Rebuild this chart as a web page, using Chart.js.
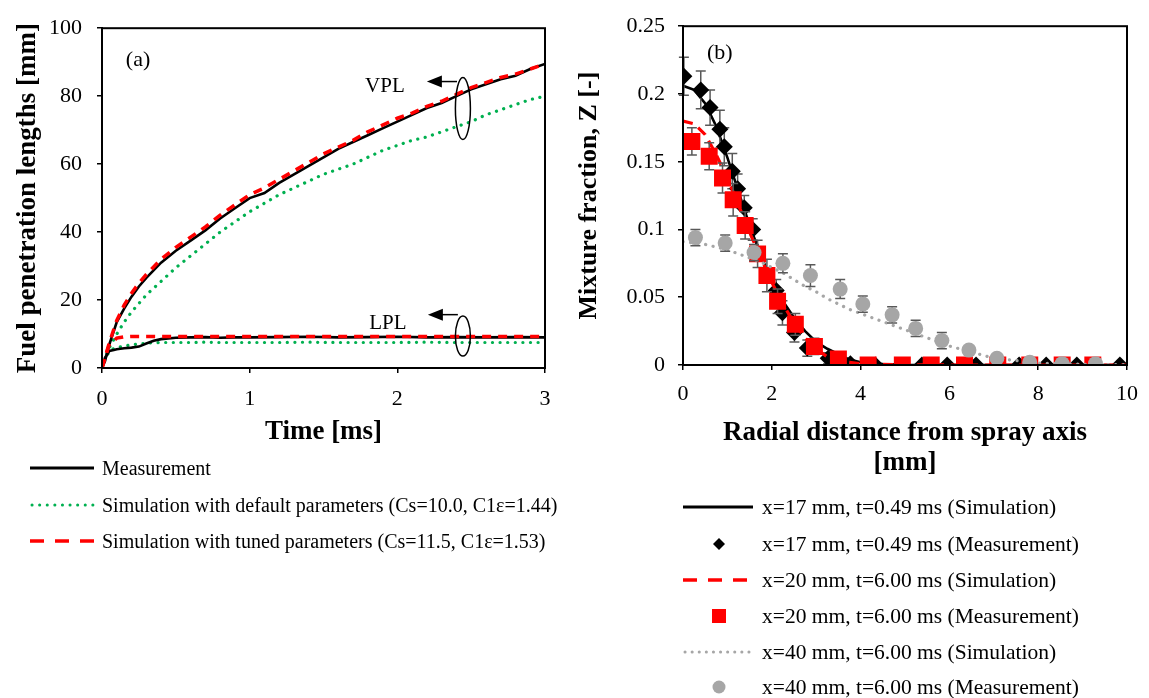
<!DOCTYPE html>
<html><head><meta charset="utf-8">
<script src="https://cdn.jsdelivr.net/npm/chart.js@4.4.0/dist/chart.umd.min.js"></script>
<style>
body{margin:0;background:#fff;width:1149px;height:698px;overflow:hidden;position:relative;font-family:"Liberation Serif","Times New Roman",serif;color:#000;}
#c1{position:absolute;left:0;top:0;}
#c2{position:absolute;left:560px;top:0;}
.row{position:absolute;display:flex;align-items:center;white-space:nowrap;font-size:20px;height:30px;}
.row svg{flex:none;}
</style>
</head><body>
<canvas id="c1" width="580" height="500"></canvas>
<canvas id="c2" width="589" height="500"></canvas>
<div id="legA"></div>
<div id="legB"></div>
<script>
// ---------- Panel (a) data ----------
const vplTime = [0,0.02,0.05,0.1,0.15,0.2,0.25,0.3,0.4,0.5,0.6,0.7,0.8,0.9,1.0,1.1,1.2,1.3,1.4,1.5,1.6,1.7,1.8,1.9,2.0,2.1,2.2,2.3,2.4,2.5,2.6,2.7,2.8,2.9,3.0];
const vplMeas  = [0,2,7,13.5,17.5,21,24,26.5,31,34.5,37.5,40.5,44,47,50,51.5,54.5,57,59.5,62,64.5,66.5,68.5,70.5,72.5,74.5,76.5,78,80,82,83.5,85,86,88,89.5];
const vplDef   = [0,3,6,10,13.5,16.5,19,21.5,25.5,29.5,33,36.5,40,43,46,48.5,51,53,55,57,58.5,60,62,64,65.5,67,68,69.5,71,72.5,74.5,76,77.5,79,80];
const vplTuned = [0,3,7.5,14,18.5,22,25,27.5,32,35.5,38.5,41.5,45,48,51,53,55.5,58,60.5,63,65,67,69.5,71.5,73.5,75,77,78.5,80.5,82.5,84,85.5,86.5,88,89.5];
const lplTime  = [0,0.02,0.05,0.08,0.1,0.15,0.2,0.25,0.3,0.35,0.4,0.5,0.6,0.7,0.8,0.9,1.0,1.2,1.4,1.6,1.8,2.0,2.2,2.4,2.6,2.8,3.0];
const lplMeas  = [0,3,5,5.3,5.5,5.8,6,6.3,7.2,8,8.5,8.9,9,9.1,8.9,9,9,9.1,9.2,9,9.1,9.2,9,9.1,9,9.1,9];
const lplDef   = [0,2.5,5,5.7,6,6.5,6.8,7.1,7.3,7.4,7.5,7.5,7.5,7.6,7.5,7.5,7.5,7.5,7.6,7.5,7.5,7.5,7.6,7.5,7.5,7.5,7.5];
const lplTuned = [0,3,7,8,8.8,9.2,9.3,9.3,9.3,9.3,9.3,9.3,9.3,9.3,9.3,9.3,9.3,9.3,9.3,9.3,9.3,9.3,9.3,9.3,9.3,9.3,9.3];
const legendA = ['Measurement','Simulation with default parameters (Cs=10.0, C1\u03b5=1.44)','Simulation with tuned parameters (Cs=11.5, C1\u03b5=1.53)'];
const xTicksA = [0,1,2,3];
const yTicksA = [0,20,40,60,80,100];

// ---------- Panel (b) data ----------
const simR   = [0,0.25,0.5,0.75,1.0,1.25,1.5,1.75,2.0,2.25,2.5,2.75,3.0,3.25,3.5,3.75,4.0,4.5,5.0,6.0,7.0,8.0,9.0,10.0];
const sim17  = [0.206,0.203,0.193,0.176,0.153,0.128,0.103,0.081,0.062,0.047,0.035,0.025,0.017,0.012,0.008,0.004,0.002,0.0007,0.0002,0,0,0,0,0];
const sim20  = [0.180,0.178,0.170,0.155,0.138,0.118,0.098,0.079,0.061,0.045,0.031,0.020,0.012,0.006,0.003,0.002,0.001,0.0005,0.0002,0,0,0,0,0];
const sim40  = [0.091,0.090,0.089,0.087,0.085,0.082,0.079,0.076,0.072,0.068,0.063,0.058,0.054,0.049,0.045,0.041,0.038,0.032,0.026,0.014,0.005,0.0015,0.0005,0.0002];
const meas17R = [0.02,0.40,0.61,0.83,0.93,1.11,1.23,1.38,1.57,2.10,2.24,2.51,2.80,3.27,3.77,4.33,5.38,5.95,6.60,7.57,8.18,8.87,9.84];
const meas17Z = [0.213,0.203,0.190,0.174,0.161,0.143,0.130,0.116,0.100,0.055,0.0385,0.024,0.0125,0.005,0.001,0,0,0,0,0,0,0,0];
const meas17E = [0.014,0.014,0.013,0.014,0.014,0.013,0.011,0.009,0.008,0.008,0.009,0.007,0.006,0.004,0.001,0,0,0,0,0,0,0,0];
const meas20R = [0.20,0.59,0.89,1.13,1.40,1.68,1.89,2.13,2.53,2.96,3.50,4.17,4.94,5.59,6.34,7.09,7.81,8.54,9.23];
const meas20Z = [0.165,0.154,0.138,0.122,0.103,0.082,0.066,0.047,0.030,0.0137,0.0045,0,0,0,0,0,0,0,0];
const meas20E = [0.010,0.010,0.011,0.012,0.010,0.010,0.012,0.009,0.008,0.006,0.003,0.001,0,0,0,0,0,0,0];
const meas40R = [0.28,0.95,1.60,2.25,2.87,3.54,4.05,4.71,5.24,5.83,6.44,7.07,7.81,8.54,9.29];
const meas40Z = [0.094,0.090,0.083,0.075,0.066,0.056,0.045,0.037,0.027,0.018,0.011,0.005,0.002,0.001,0.001];
const meas40E = [0.006,0.006,0.006,0.007,0.008,0.007,0.006,0.006,0.006,0.006,0.003,0.002,0.001,0.001,0.001];
const legendB = ['x=17 mm, t=0.49 ms (Simulation)','x=17 mm, t=0.49 ms (Measurement)','x=20 mm, t=6.00 ms (Simulation)','x=20 mm, t=6.00 ms (Measurement)','x=40 mm, t=6.00 ms (Simulation)','x=40 mm, t=6.00 ms (Measurement)'];
const xTicksB = [0,2,4,6,8,10];
const yTicksB = [0,0.05,0.1,0.15,0.2,0.25];

// annotation anchors (data units)
const annA = {label:[0.244,90.6], vpl:[1.916,82.9], lpl:[1.936,13.1],
  vplArrow:[2.20,2.404,84.3], vplEll:[2.444,76.4], lplArrow:[2.207,2.41,15.7], lplEll:[2.444,9.4]};
const annB = {label:[0.83,0.2298]};

const FONT = '"Liberation Serif","Times New Roman",serif';
const zip = (xs, ys) => xs.map((x,i)=>({x, y: ys[i]}));

const boxPlugin = {id:'box', afterDraw(chart){
  const {ctx, chartArea:a} = chart; ctx.save(); ctx.strokeStyle='#000'; ctx.lineWidth=2;
  ctx.strokeRect(a.left, a.top, a.right-a.left, a.bottom-a.top); ctx.restore(); }};

const errPlugin = {id:'err', beforeDatasetDraw(chart, args){
  const ds = chart.data.datasets[args.index]; if(!ds.errors) return;
  const {ctx} = chart, xs = chart.scales.x, ys = chart.scales.y;
  ctx.save(); ctx.strokeStyle='#595959'; ctx.lineWidth=1.5;
  ds.data.forEach((p,i)=>{ const e = ds.errors[i]; if(!e) return;
    const px = xs.getPixelForValue(p.x), y1 = ys.getPixelForValue(p.y+e), y2 = ys.getPixelForValue(Math.max(0,p.y-e));
    ctx.beginPath(); ctx.moveTo(px,y1); ctx.lineTo(px,y2);
    ctx.moveTo(px-5,y1); ctx.lineTo(px+5,y1); ctx.moveTo(px-5,y2); ctx.lineTo(px+5,y2); ctx.stroke(); });
  ctx.restore(); }};

function ellipse(ctx, cx, cy, rx, ry){ ctx.beginPath(); ctx.ellipse(cx, cy, rx, ry, 0, 0, Math.PI*2); ctx.stroke(); }
function arrow(ctx, xTip, xTail, y){
  ctx.beginPath(); ctx.moveTo(xTip+14, y); ctx.lineTo(xTail, y); ctx.stroke();
  ctx.beginPath(); ctx.moveTo(xTip, y); ctx.lineTo(xTip+15, y-6); ctx.lineTo(xTip+15, y+6); ctx.closePath(); ctx.fill(); }

const annPluginA = {id:'annA', afterDatasetsDraw(chart){
  const {ctx} = chart, X = v=>chart.scales.x.getPixelForValue(v), Y = v=>chart.scales.y.getPixelForValue(v);
  ctx.save(); ctx.fillStyle='#000'; ctx.strokeStyle='#000'; ctx.lineWidth=1.5;
  ctx.font = '22px '+FONT; ctx.textAlign='center'; ctx.textBaseline='middle';
  ctx.fillText('(a)', X(annA.label[0]), Y(annA.label[1]));
  ctx.font = '21px '+FONT;
  ctx.fillText('VPL', X(annA.vpl[0]), Y(annA.vpl[1]));
  ctx.fillText('LPL', X(annA.lpl[0]), Y(annA.lpl[1]));
  arrow(ctx, X(annA.vplArrow[0]), X(annA.vplArrow[1]), Y(annA.vplArrow[2]));
  arrow(ctx, X(annA.lplArrow[0]), X(annA.lplArrow[1]), Y(annA.lplArrow[2]));
  ellipse(ctx, X(annA.vplEll[0]), Y(annA.vplEll[1]), 7.5, 31);
  ellipse(ctx, X(annA.lplEll[0]), Y(annA.lplEll[1]), 7.5, 20);
  ctx.restore(); }};

const annPluginB = {id:'annB', afterDatasetsDraw(chart){
  const {ctx} = chart, X = v=>chart.scales.x.getPixelForValue(v), Y = v=>chart.scales.y.getPixelForValue(v);
  ctx.save(); ctx.fillStyle='#000'; ctx.font='22px '+FONT; ctx.textAlign='center'; ctx.textBaseline='middle';
  ctx.fillText('(b)', X(annB.label[0]), Y(annB.label[1])); ctx.restore(); }};

const tickFont = {family:FONT, size:22};
const titleFont = {family:FONT, size:27, weight:'bold'};
const gridOpt = {drawOnChartArea:false, drawTicks:true, tickLength:5, color:'#000', lineWidth:1.5};
const borderOpt = {display:true, color:'#000', width:2};

function line(data, color, width, dash, order, cap){
  return {data, showLine:true, borderColor:color, backgroundColor:color, borderWidth:width, borderDash:dash||[],
    borderCapStyle:cap||'butt', pointRadius:0, pointHoverRadius:0, tension:0, order};
}

new Chart(document.getElementById('c1'), {
  type:'scatter',
  data:{datasets:[
    line(zip(vplTime,vplDef),'#00b050',3.2,[0.1,7.5],6,'round'),
    line(zip(lplTime,lplDef),'#00b050',3.2,[0.1,7.5],5,'round'),
    line(zip(vplTime,vplMeas),'#000',2.6,[],4),
    line(zip(lplTime,lplMeas),'#000',2.6,[],3),
    line(zip(vplTime,vplTuned),'#ff0000',3.5,[9,7],2),
    line(zip(lplTime,lplTuned),'#ff0000',3.5,[9,7],1)
  ]},
  options:{responsive:false, animation:false, devicePixelRatio:1,
    layout:{padding:{left:0,right:35,top:17,bottom:0}},
    plugins:{legend:{display:false}, tooltip:{enabled:false}},
    scales:{
      x:{type:'linear', min:0, max:3, afterFit(s){s.height=132;},
        afterBuildTicks(s){s.ticks = xTicksA.map(v=>({value:v}));},
        ticks:{font:tickFont, color:'#000', padding:13, maxRotation:0},
        grid:gridOpt, border:borderOpt,
        title:{display:true, text:'Time [ms]', font:titleFont, color:'#000', padding:{top:0,bottom:52}}},
      y:{type:'linear', min:0, max:100, afterFit(s){s.width=102;},
        afterBuildTicks(s){s.ticks = yTicksA.map(v=>({value:v}));},
        ticks:{font:tickFont, color:'#000', padding:15},
        grid:gridOpt, border:borderOpt,
        title:{display:true, text:'Fuel penetration lengths [mm]', font:titleFont, color:'#000', padding:{top:12,bottom:0}}}
    }},
  plugins:[boxPlugin, annPluginA]
});

function pts(data, style, radius, color, errors, order){
  return {data, showLine:false, pointStyle:style, pointRadius:radius, pointHoverRadius:radius,
    pointBackgroundColor:color, pointBorderColor:color, pointBorderWidth:0, backgroundColor:color, borderColor:color, errors, order};
}

new Chart(document.getElementById('c2'), {
  type:'scatter',
  data:{datasets:[
    line(zip(simR,sim17),'#000',2.6,[],6),
    pts(zip(meas17R,meas17Z),'rectRot',8.5,'#000',meas17E,5),
    line(zip(simR,sim20),'#ff0000',3.2,[10,7],4),
    pts(zip(meas20R,meas20Z),'rect',12,'#ff0000',meas20E,3),
    line(zip(simR,sim40),'#a6a6a6',3.2,[0.1,7.5],2,'round'),
    pts(zip(meas40R,meas40Z),'circle',7.5,'#a6a6a6',meas40E,1)
  ]},
  options:{responsive:false, animation:false, devicePixelRatio:1,
    layout:{padding:{left:0,right:19,top:19,bottom:0}},
    plugins:{legend:{display:false}, tooltip:{enabled:false}},
    scales:{
      x:{type:'linear', min:0, max:10, afterFit(s){s.height=135;},
        afterBuildTicks(s){s.ticks = xTicksB.map(v=>({value:v}));},
        ticks:{font:tickFont, color:'#000', padding:11, maxRotation:0},
        grid:gridOpt, border:borderOpt,
        title:{display:true, text:['Radial distance from spray axis','[mm]'], font:{family:FONT,size:27,weight:'bold',lineHeight:1.1}, color:'#000', padding:{top:0,bottom:22}}},
      y:{type:'linear', min:0, max:0.25, afterFit(s){s.width=123;},
        afterBuildTicks(s){s.ticks = yTicksB.map(v=>({value:v}));},
        ticks:{font:tickFont, color:'#000', padding:13, callback:v=>String(Number(v.toFixed(2)))},
        grid:gridOpt, border:borderOpt,
        title:{display:true, text:'Mixture fraction, Z [-]', font:{family:FONT,size:26,weight:'bold'}, color:'#000', padding:{top:14,bottom:0}}}
    }},
  plugins:[boxPlugin, errPlugin, annPluginB]
});

// ---------- legends ----------
const svgLine = (w, color, width, dash, cap) =>
  `<svg width="${w}" height="20"><line x1="${cap==='round'?2:0}" y1="10" x2="${w-2}" y2="10" stroke="${color}" stroke-width="${width}" stroke-dasharray="${dash}" stroke-linecap="${cap||'butt'}"/></svg>`;
const svgMark = (w, shape) => {
  const c = w/2; let s='';
  if(shape==='diamond') s=`<polygon points="${c},4 ${c+6},10 ${c},16 ${c-6},10" fill="#000"/>`;
  if(shape==='square') s=`<rect x="${c-7}" y="3" width="14" height="14" fill="#ff0000"/>`;
  if(shape==='circle') s=`<circle cx="${c}" cy="10" r="6.5" fill="#a6a6a6"/>`;
  return `<svg width="${w}" height="20">${s}</svg>`;
};
const legA = document.getElementById('legA');
const sampA = [svgLine(66,'#000',3,'none'), svgLine(66,'#00b050',3,'0.1 7.5','round'), svgLine(66,'#ff0000',3.5,'14 11')];
const rowYA = [468,505,541];
legendA.forEach((t,i)=>{ const d=document.createElement('div'); d.className='row';
  d.style.left='30px'; d.style.top=(rowYA[i]-15)+'px';
  d.innerHTML = sampA[i]+`<span style="margin-left:6px">${t}</span>`; legA.appendChild(d); });
const legB = document.getElementById('legB');
const sampB = [svgLine(72,'#000',3,'none'), svgMark(72,'diamond'), svgLine(72,'#ff0000',3.5,'14 11'), svgMark(72,'square'), svgLine(72,'#a6a6a6',3,'0.1 7','round'), svgMark(72,'circle')];
const rowYB = [507,544,580,616,652,687];
legendB.forEach((t,i)=>{ const d=document.createElement('div'); d.className='row'; d.style.fontSize='21.5px';
  d.style.left='683px'; d.style.top=(rowYB[i]-15)+'px';
  d.innerHTML = sampB[i]+`<span style="margin-left:7px">${t}</span>`; legB.appendChild(d); });
</script>
</body></html>
